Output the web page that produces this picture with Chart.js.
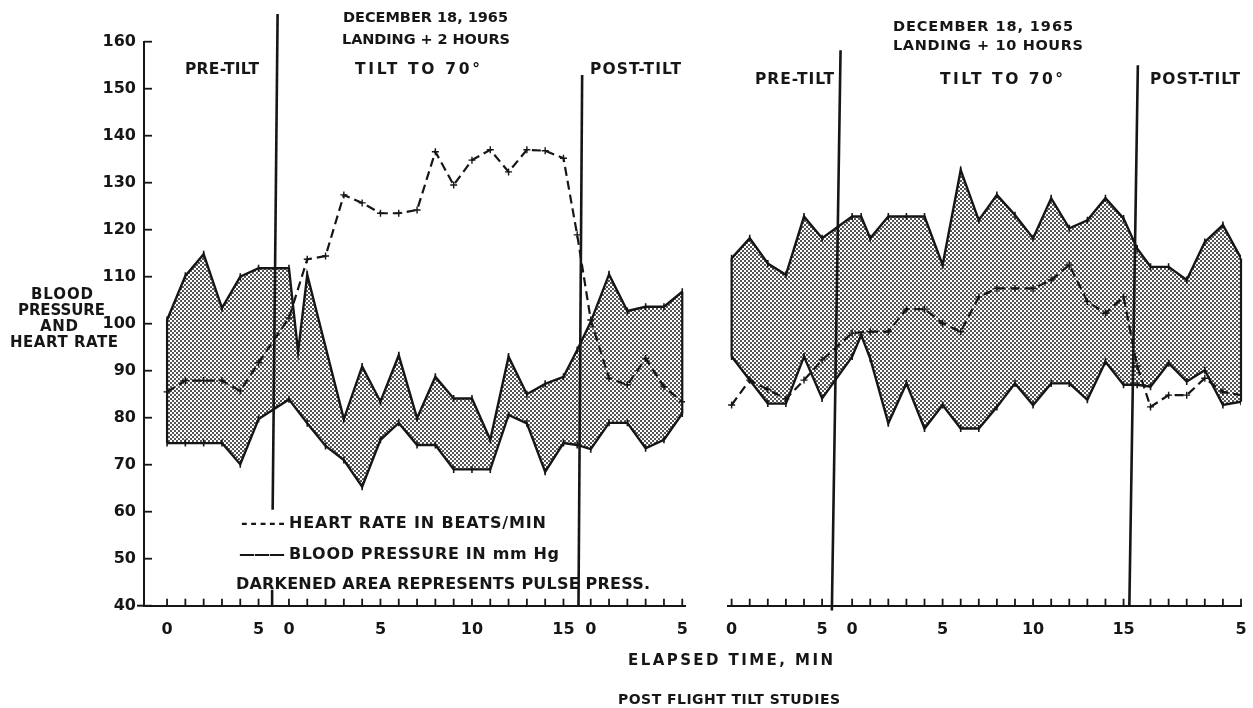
<!DOCTYPE html>
<html><head><meta charset="utf-8">
<script src="https://cdn.jsdelivr.net/npm/chart.js@4.4.1/dist/chart.umd.min.js"></script>
<style>
html,body{margin:0;padding:0;background:#fff;}
#wrap{position:relative;width:1253px;height:708px;overflow:hidden;background:#fff;}
#wrap canvas{position:absolute;top:0;}
#cL{left:0;} #cR{left:700px;}
.t{position:absolute;font-family:'DejaVu Sans',sans-serif;font-weight:bold;white-space:nowrap;line-height:1;color:#161616;}
</style></head><body>
<div id="wrap">
<canvas id="cL" width="700" height="708"></canvas>
<canvas id="cR" width="553" height="708"></canvas>
</div>
<script>
// ================= DATA =================
// sample times (minutes within each phase)
const PRE_MIN  = [0, 1, 2, 3, 4, 5];
const TILT_MIN = [0, 0.5, 1, 2, 3, 4, 5, 6, 7, 8, 9, 10, 11, 12, 13, 14, 15, 15.75];
const POST_MIN = [0, 1, 2, 3, 4, 5];

// Left panel: Landing + 2 hours (values in order pre, tilt, post)
const L_SYS = [100.8, 110.2, 114.8, 103.3, 110.0, 111.8,
               111.8, 94.0, 110.4, null, 79.7, 90.9, 83.4, 93.3, 79.9, 88.7, 84.1, 84.1, 75.3, 93.0, 85.0, 87.2, 88.7, 94.4,
               100.4, 110.5, 102.7, 103.6, 103.6, 106.8];
const L_DIA = [74.6, 74.6, 74.6, 74.6, 70.1, 79.7,
               83.9, null, 78.8, 74.0, 71.0, 65.3, 75.3, 78.9, 74.2, 74.2, 69.0, 69.0, 69.0, 80.6, 78.8, 68.5, 74.6, 74.2,
               73.3, 78.9, 78.9, 73.5, 75.3, 80.9];
const L_HR  = [85.5, 87.9, 87.9, 87.9, 85.7, 91.7,
               101.2, null, 113.7, 114.4, 127.4, 125.7, 123.5, 123.5, 124.2, 136.6, 129.5, 134.8, 137.0, 132.3, 137.0, 136.8, 135.2, 118.9,
               100.8, 88.4, 87.0, 92.6, 86.6, 83.4];

// Right panel: Landing + 10 hours
const R_SYS = [113.9, 118.2, 112.8, 110.4, 122.8, 118.2,
               122.8, 122.8, 118.2, 122.8, 122.8, 122.8, 112.5, 132.7, 122.0, 127.4, 123.1, 118.2, 126.7, 120.3, 122.0, 126.7, 122.4, 116.0,
               112.1, 112.1, 109.3, 117.4, 121.0, 113.9];
const R_DIA = [93.0, 88.0, 83.0, 83.0, 93.0, 84.1,
               93.0, 97.6, 92.6, 78.8, 87.3, 77.7, 82.7, 77.7, 77.7, 82.3, 87.3, 82.7, 87.3, 87.3, 83.8, 91.9, 87.0, 87.0,
               86.6, 91.6, 87.7, 90.1, 82.7, 83.4];
const R_HR  = [82.7, 88.0, 86.0, 84.0, 88.0, 92.3,
               98.0, null, 98.3, 98.3, 103.1, 103.1, 100.1, 98.3, 105.7, 107.5, 107.5, 107.5, 109.3, 112.5, 104.7, 102.2, 105.7, 91.0,
               82.3, 84.8, 84.8, 88.4, 85.5, 84.8];

// tick labels
const Y_MIN = 40, Y_MAX = 160, Y_STEP = 10;
const PRE_LABELS    = [0, 5];
const TILT_LABELS   = [0, 5, 10, 15];
const L_POST_LABELS = [0, 5];
const R_POST_LABELS = [5];

// ================= AXIS / LAYOUT CONFIG =================
const INK = '#161616';
const PHASE_OFFSET = [0, 6.66, 23.15]; // where minute 0 of each phase sits on the elapsed-time axis
const YFONT = {family: "'DejaVu Sans', sans-serif", weight: 'bold', size: 16};
const XFONT = {family: "'DejaVu Sans', sans-serif", weight: 'bold', size: 16, lineHeight: 3};
const TOP_PAD = 41.7, X_AXIS_H = 102.3;

const X_ALL = [].concat(
  PRE_MIN.map(m => PHASE_OFFSET[0] + m),
  TILT_MIN.map(m => PHASE_OFFSET[1] + m),
  POST_MIN.map(m => PHASE_OFFSET[2] + m));
const series = vals => vals.map((v, i) => ({x: X_ALL[i], y: v}));
const MINOR = [].concat(
  PRE_MIN.map(m => PHASE_OFFSET[0] + m),
  TILT_MIN.filter(Number.isInteger).map(m => PHASE_OFFSET[1] + m),
  POST_MIN.map(m => PHASE_OFFSET[2] + m));
function labelTicks(post) {
  return [].concat(
    PRE_LABELS.map(m => ({v: PHASE_OFFSET[0] + m, s: String(m)})),
    TILT_LABELS.map(m => ({v: PHASE_OFFSET[1] + m, s: String(m)})),
    post.map(m => ({v: PHASE_OFFSET[2] + m, s: String(m)})));
}

const DECOR = {
  cL: {yTicks: true, stub: 7, dividers: [
        {x0: 6.04, y0: 165.9, x1: 5.77, y1: 60.4},
        {x0: 5.74, y0: 43.4, x1: 5.74, y1: 40},
        {x0: 22.68, y0: 152.9, x1: 22.48, y1: 40}]},
  cR: {yTicks: false, stub: 0, dividers: [
        {x0: 6.02, y0: 158.2, x1: 5.54, y1: 39},
        {x0: 22.45, y0: 155.0, x1: 21.98, y1: 40}]}
};

function makePattern() {
  const c = document.createElement('canvas'); c.width = 4; c.height = 4;
  const g = c.getContext('2d');
  g.fillStyle = '#ffffff'; g.fillRect(0, 0, 4, 4);
  g.fillStyle = '#555555';
  g.fillRect(0, 0, 2, 2); g.fillRect(2, 2, 2, 2);
  return g.createPattern(c, 'repeat');
}
const PATTERN = makePattern();

const decor = {
  id: 'decor',
  afterDatasetsDraw(chart) {
    const o = DECOR[chart.canvas.id];
    const {ctx} = chart, xs = chart.scales.x, ys = chart.scales.y;
    const seg = (a, b, c, d) => { ctx.beginPath(); ctx.moveTo(a, b); ctx.lineTo(c, d); ctx.stroke(); };
    ctx.save();
    ctx.strokeStyle = INK;
    // vertical edges of the shaded pulse-pressure band
    ctx.lineWidth = 2.2;
    const s = chart.data.datasets[0].data, d = chart.data.datasets[1].data;
    [0, s.length - 1].forEach(i => {
      const px = xs.getPixelForValue(s[i].x);
      seg(px, ys.getPixelForValue(s[i].y), px, ys.getPixelForValue(d[i].y));
    });
    const yb = ys.getPixelForValue(Y_MIN);
    const xl = xs.getPixelForValue(xs.min);
    // small stub of the x axis to the left of the y axis
    if (o.stub) { ctx.lineWidth = 2; seg(xl - o.stub, yb, xl, yb); }
    // inward ticks on x axis
    ctx.lineWidth = 1.8;
    MINOR.forEach(v => { const p = xs.getPixelForValue(v); seg(p, yb, p, yb - 7); });
    // inward ticks on y axis
    if (o.yTicks) {
      for (let v = Y_MIN; v <= Y_MAX; v += Y_STEP) { const p = ys.getPixelForValue(v); seg(xl, p, xl + 8, p); }
    }
    // phase dividers
    ctx.lineWidth = 2.6;
    o.dividers.forEach(q => seg(xs.getPixelForValue(q.x0), ys.getPixelForValue(q.y0), xs.getPixelForValue(q.x1), ys.getPixelForValue(q.y1)));
    ctx.restore();
  }
};

function makeChart(id, sys, dia, hr, cfg) {
  const lt = labelTicks(cfg.post);
  const common = {borderColor: INK, pointBorderColor: INK, pointBackgroundColor: INK, spanGaps: true, tension: 0};
  return new Chart(document.getElementById(id), {
    type: 'line',
    data: {datasets: [
      Object.assign({label: 'Systolic', data: series(sys), borderWidth: 2.4, fill: '+1', backgroundColor: PATTERN,
        pointStyle: 'line', pointRotation: 90, pointRadius: 3.5, pointBorderWidth: 1.6}, common),
      Object.assign({label: 'Diastolic', data: series(dia), borderWidth: 2.4, fill: false,
        pointStyle: 'line', pointRotation: 90, pointRadius: 3.5, pointBorderWidth: 1.6}, common),
      Object.assign({label: 'Heart rate', data: series(hr), borderWidth: 2.2, borderDash: [9, 5], fill: false,
        pointStyle: 'cross', pointRadius: 3.5, pointBorderWidth: 1.4}, common)
    ]},
    options: {
      responsive: false, animation: false, events: [],
      layout: {autoPadding: false, padding: {left: cfg.padL, right: cfg.padR, top: TOP_PAD, bottom: 0}},
      plugins: {legend: {display: false}, tooltip: {enabled: false}, filler: {drawTime: 'beforeDatasetsDraw'}},
      scales: {
        x: {type: 'linear', min: cfg.xMin, max: cfg.xMax,
            border: {display: true, color: INK, width: 2},
            grid: {display: true, drawOnChartArea: false, drawTicks: false},
            ticks: {autoSkip: false, maxRotation: 0, padding: 0, color: INK, font: XFONT,
                    callback: (v, i) => lt[i] ? lt[i].s : ''},
            afterBuildTicks: ax => { ax.ticks = lt.map(t => ({value: t.v})); },
            afterFit: ax => { ax.height = X_AXIS_H; }},
        y: cfg.showY ? {min: Y_MIN, max: Y_MAX,
            border: {display: true, color: INK, width: 2},
            grid: {display: true, drawOnChartArea: false, drawTicks: false},
            ticks: {stepSize: Y_STEP, padding: 8, color: INK, font: YFONT},
            afterFit: ax => { ax.width = 144; }}
          : {min: Y_MIN, max: Y_MAX, display: false}
      }
    },
    plugins: [decor]
  });
}

makeChart('cL', L_SYS, L_DIA, L_HR, {padL: 0, padR: 15, xMin: -1.26, xMax: 28.3, post: L_POST_LABELS, showY: true});
makeChart('cR', R_SYS, R_DIA, R_HR, {padL: 28, padR: 12, xMin: -0.2, xMax: 28.15, post: R_POST_LABELS, showY: false});

// ================= TEXT ANNOTATIONS =================
// s: text, x: left px, y: cap top px, w: target width px, f: font size px
const TEXTS = [
  {s: 'DECEMBER 18, 1965', x: 343, y: 12, w: 165, f: 14.5},
  {s: 'LANDING + 2 HOURS', x: 342, y: 34, w: 168, f: 14.5},
  {s: 'DECEMBER 18, 1965', x: 893, y: 21, w: 180, f: 14.5},
  {s: 'LANDING + 10 HOURS', x: 893, y: 40, w: 190, f: 14.5},
  {s: 'PRE-TILT', x: 185, y: 64, w: 74, f: 15.5},
  {s: 'TILT TO 70°', x: 355, y: 64, w: 125, f: 15.5},
  {s: 'POST-TILT', x: 590, y: 64, w: 91, f: 15.5},
  {s: 'PRE-TILT', x: 755, y: 74, w: 79, f: 15.5},
  {s: 'TILT TO 70°', x: 940, y: 74, w: 123, f: 15.5},
  {s: 'POST-TILT', x: 1150, y: 74, w: 90, f: 15.5},
  {s: 'BLOOD', x: 31, y: 289, w: 62, f: 15},
  {s: 'PRESSURE', x: 18, y: 305, w: 87, f: 15},
  {s: 'AND', x: 40, y: 321, w: 38, f: 15},
  {s: 'HEART RATE', x: 10, y: 337, w: 108, f: 15},
  {s: '-----', x: 241, y: 517, w: 44, f: 16},
  {s: 'HEART RATE IN BEATS/MIN', x: 289, y: 517, w: 257, f: 16},
  {s: '———', x: 239, y: 548, w: 46, f: 16},
  {s: 'BLOOD PRESSURE IN mm Hg', x: 289, y: 548, w: 270, f: 16},
  {s: 'DARKENED AREA REPRESENTS PULSE PRESS.', x: 236, y: 578, w: 414, f: 16},
  {s: 'ELAPSED TIME, MIN', x: 628, y: 655, w: 205, f: 15},
  {s: 'POST FLIGHT TILT STUDIES', x: 618, y: 694, w: 222, f: 14}
];
const wrap = document.getElementById('wrap');
TEXTS.forEach(t => {
  const d = document.createElement('div');
  d.className = 't'; d.textContent = t.s; d.style.fontSize = t.f + 'px';
  wrap.appendChild(d);
  const nat = d.getBoundingClientRect().width;
  const n = Array.from(t.s).length;
  if (n > 1) d.style.letterSpacing = ((t.w - nat) / (n - 1)) + 'px';
  d.style.left = t.x + 'px';
  d.style.top = (t.y - 0.117 * t.f) + 'px';
});
</script>
</body></html>
